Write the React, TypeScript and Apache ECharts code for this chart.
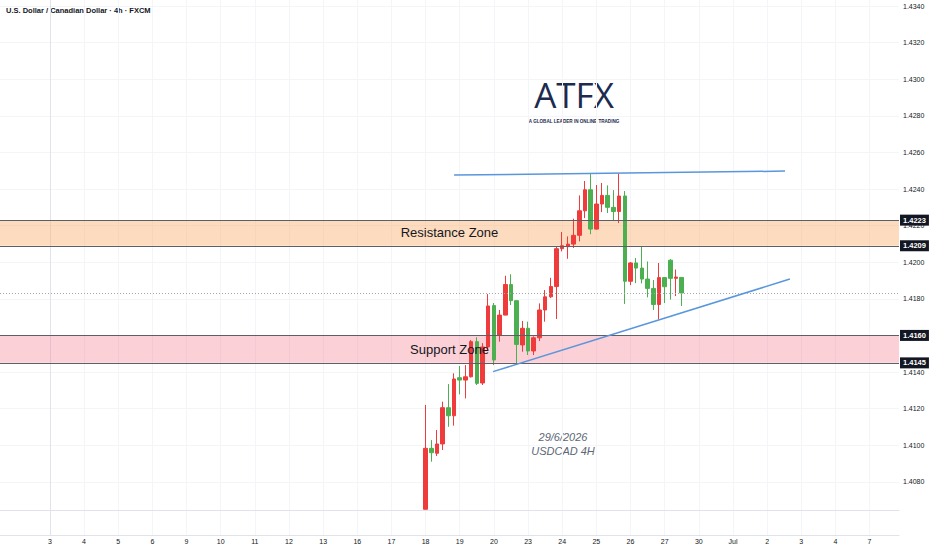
import React, { useEffect, useRef } from "react";
import * as echarts from "echarts";

// ---- data ----
const dayLabels = ["3", "4", "5", "6", "9", "10", "11", "12", "13", "16", "17", "18", "19", "20", "23", "24", "25", "26", "27", "30", "Jul", "2", "3", "4", "7"];
const barsPerDay = 6;
const firstCandleSlot = 66;

const candleOpen = [
  1.4065, 1.40983, 1.40956, 1.41007, 1.41205, 1.41161,
  1.41369, 1.41356, 1.41374, 1.41566, 1.4134, 1.41537,
  1.41763, 1.41602, 1.41711, 1.41878, 1.4179, 1.41548,
  1.41639, 1.41515, 1.41587, 1.41739, 1.41811, 1.41867,
  1.42074, 1.42085, 1.42099, 1.42147, 1.42281, 1.42396,
  1.42181, 1.42318, 1.42365, 1.423, 1.42277, 1.42362,
  1.41896, 1.41996, 1.41968, 1.41908, 1.41857, 1.41769,
  1.41916, 1.42011, 1.41912, 1.41917,
];
const candleClose = [
  1.40983, 1.40959, 1.41007, 1.41205, 1.41161, 1.41362,
  1.41356, 1.41374, 1.41566, 1.41338, 1.41537, 1.41761,
  1.41466, 1.41711, 1.41878, 1.4179, 1.41551, 1.41639,
  1.41515, 1.41587, 1.41739, 1.41811, 1.41867, 1.42074,
  1.4209, 1.42099, 1.42147, 1.42281, 1.42396, 1.42181,
  1.42318, 1.42365, 1.423, 1.42277, 1.42362, 1.41896,
  1.41996, 1.41968, 1.41908, 1.41857, 1.41769, 1.41916,
  1.41866, 1.41912, 1.41919, 1.41832,
];
const candleLow = [
  1.4065, 1.4091, 1.40941, 1.40974, 1.41101, 1.41107,
  1.41278, 1.41256, 1.4137, 1.41329, 1.41329, 1.4152,
  1.41438, 1.41566, 1.41711, 1.41766, 1.41438, 1.41511,
  1.41493, 1.41493, 1.41569, 1.41675, 1.41804, 1.4169,
  1.42059, 1.42019, 1.42078, 1.42114, 1.42241, 1.42153,
  1.42178, 1.42274, 1.42269, 1.42228, 1.42214, 1.41772,
  1.41875, 1.41886, 1.41884, 1.41808, 1.41739, 1.41687,
  1.41777, 1.41796, 1.41815, 1.41761,
];
const candleHigh = [
  1.4122, 1.41028, 1.41083, 1.41238, 1.41334, 1.41393,
  1.41433, 1.41438, 1.41575, 1.4159, 1.41558, 1.41826,
  1.41777, 1.41739, 1.41926, 1.41934, 1.4179, 1.41679,
  1.41675, 1.41595, 1.41775, 1.41848, 1.41915, 1.42088,
  1.42165, 1.42141, 1.42238, 1.42365, 1.42444, 1.42482,
  1.42422, 1.42433, 1.4242, 1.42394, 1.42485, 1.42389,
  1.42001, 1.42023, 1.42086, 1.42004, 1.41903, 1.41996,
  1.41919, 1.42017, 1.4196, 1.41919,
];

const yTicks = [1.408, 1.41, 1.412, 1.414, 1.416, 1.418, 1.42, 1.422, 1.424, 1.426, 1.428, 1.43, 1.432, 1.434];
const resistanceZone = [1.4223, 1.4209];
const supportZone = [1.416, 1.4145];
const resistanceLine = [[71.0, 1.42476], [129.15, 1.42498]];
const trendLine = [[77.85, 1.41402], [130.0, 1.41908]];
const xRange = [-8.77, 149.17];
const yRange = [1.40646, 1.43433];

const titleText = "U.S. Dollar / Canadian Dollar · 4h · FXCM";
const noteDate = "29/6/2026";
const noteSymbol = "USDCAD 4H";
const logoText = "ATFX";
const logoTagline = "A GLOBAL LEADER IN ONLINE TRADING";

const FONT = "Liberation Sans";

export default function App() {
  const ref = useRef<HTMLDivElement>(null);

  useEffect(() => {
    if (!ref.current) return;
    const chart = echarts.init(ref.current, null, { renderer: "svg" });

    const candles = candleOpen.map((o, i) => [
      firstCandleSlot + i,
      o,
      candleClose[i],
      candleLow[i],
      candleHigh[i],
    ]);
    const lastClose = candleClose[candleClose.length - 1];
    const dayTicks = dayLabels.map((_, i) => i * barsPerDay);

    const zoneLabel = (v: number) => ({
      yAxis: v,
      lineStyle: { color: "#5d5f66", width: 1, type: "solid" },
      label: {
        show: true,
        position: "end",
        distance: 1,
        formatter: v.toFixed(4),
        backgroundColor: "#131722",
        color: "#ffffff",
        fontSize: 7.5,
        fontWeight: "bold",
        fontFamily: FONT,
        padding: [2, 3, 1, 3],
      },
    });

    const blue = "#5a96dc";

    chart.setOption({
      animation: false,
      backgroundColor: "#ffffff",
      grid: [
        { left: 0, right: 33, top: 0, bottom: 40 },
        { left: 0, right: 33, top: 510, height: 25 },
      ],
      xAxis: [
        {
          type: "value",
          gridIndex: 0,
          min: xRange[0],
          max: xRange[1],
          axisLine: { show: true, onZero: false, lineStyle: { color: "#e0e3eb" } },
          axisTick: { show: false, customValues: dayTicks },
          axisLabel: { show: false },
          splitLine: { show: true, lineStyle: { color: "#f4f5f8", width: 1 } },
        },
        {
          type: "value",
          gridIndex: 1,
          min: xRange[0],
          max: xRange[1],
          axisLine: { show: true, onZero: false, lineStyle: { color: "#e0e3eb" } },
          axisTick: { show: false, customValues: dayTicks },
          axisLabel: {
            show: true,
            customValues: dayTicks,
            formatter: (v: number) => dayLabels[Math.round(v / barsPerDay)] ?? "",
            fontSize: 7,
            fontFamily: FONT,
            color: "#131722",
            margin: 3,
          },
          splitLine: { show: true, lineStyle: { color: "#f4f5f8", width: 1 } },
        },
      ],
      yAxis: [
        {
          type: "value",
          gridIndex: 0,
          position: "right",
          min: yRange[0],
          max: yRange[1],
          axisLine: { show: true, lineStyle: { color: "#e0e3eb" } },
          axisTick: { show: false, customValues: yTicks },
          axisLabel: {
            show: true,
            customValues: yTicks,
            formatter: (v: number) => v.toFixed(4),
            fontSize: 7,
            fontFamily: FONT,
            color: "#131722",
            margin: 4,
          },
          splitLine: { show: true, lineStyle: { color: "#f4f5f8", width: 1 } },
        },
        {
          type: "value",
          gridIndex: 1,
          position: "right",
          min: 0,
          max: 1,
          axisLine: { show: true, lineStyle: { color: "#e0e3eb" } },
          axisTick: { show: false },
          axisLabel: { show: false },
          splitLine: { show: false },
        },
      ],
      series: [
        {
          type: "candlestick",
          xAxisIndex: 0,
          yAxisIndex: 0,
          data: candles,
          barWidth: 4,
          clip: true,
          itemStyle: {
            color: "#ef3b3b",
            color0: "#4caf50",
            borderColor: "#ef3b3b",
            borderColor0: "#4caf50",
            borderWidth: 1,
          },
          markArea: {
            silent: true,
            label: { show: false },
            data: [
              [
                { yAxis: resistanceZone[0], itemStyle: { color: "rgba(250,175,110,0.45)" } },
                { yAxis: resistanceZone[1] },
              ],
              [
                { yAxis: supportZone[0], itemStyle: { color: "rgba(245,120,140,0.35)" } },
                { yAxis: supportZone[1] },
              ],
            ],
          },
          markLine: {
            silent: true,
            precision: 5,
            symbol: ["none", "none"],
            data: [
              {
                yAxis: lastClose,
                lineStyle: { type: [1, 2], color: "#a3a6af", width: 1 },
                label: { show: false },
              },
              zoneLabel(resistanceZone[0]),
              zoneLabel(resistanceZone[1]),
              zoneLabel(supportZone[0]),
              zoneLabel(supportZone[1]),
              [
                {
                  coord: resistanceLine[0],
                  lineStyle: { color: blue, width: 1.5, type: "solid" },
                  label: { show: false },
                },
                { coord: resistanceLine[1] },
              ],
              [
                {
                  coord: trendLine[0],
                  lineStyle: { color: blue, width: 1.5, type: "solid" },
                  label: { show: false },
                },
                { coord: trendLine[1] },
              ],
            ],
          },
        },
        {
          type: "line",
          xAxisIndex: 0,
          yAxisIndex: 0,
          data: [],
          silent: true,
          markArea: {
            silent: true,
            z: 10,
            itemStyle: { color: "rgba(0,0,0,0)" },
            label: {
              show: true,
              position: "inside",
              color: "#131722",
              fontSize: 13,
              fontFamily: FONT,
            },
            data: [
              [{ name: "Resistance Zone", yAxis: resistanceZone[0] }, { yAxis: resistanceZone[1] }],
              [{ name: "Support Zone", yAxis: supportZone[0] }, { yAxis: supportZone[1] }],
            ],
          },
        },
      ],
      graphic: [
        {
          type: "text",
          x: 6,
          y: 10,
          style: {
            text: titleText,
            fontSize: 7.5,
            fontWeight: "bold",
            fontFamily: FONT,
            fill: "#131722",
            align: "left",
            verticalAlign: "middle",
          },
        },
        {
          type: "text",
          x: 574,
          y: 94,
          style: {
            text: logoText,
            fontSize: 35,
            fontFamily: "Open Sans",
            fill: "#1d2b4f",
            align: "center",
            verticalAlign: "middle",
          },
        },
        {
          type: "text",
          x: 574,
          y: 121,
          style: {
            text: logoTagline,
            fontSize: 4.6,
            fontWeight: "bold",
            fontFamily: FONT,
            fill: "#1d2b4f",
            align: "center",
            verticalAlign: "middle",
          },
        },
        {
          type: "text",
          x: 563,
          y: 437,
          style: {
            text: noteDate,
            fontSize: 11,
            fontStyle: "italic",
            fontFamily: FONT,
            fill: "#5c6675",
            align: "center",
            verticalAlign: "middle",
          },
        },
        {
          type: "text",
          x: 563,
          y: 451,
          style: {
            text: noteSymbol,
            fontSize: 11,
            fontStyle: "italic",
            fontFamily: FONT,
            fill: "#5c6675",
            align: "center",
            verticalAlign: "middle",
          },
        },
      ],
    });

    return () => chart.dispose();
  }, []);

  return (
    <div
      ref={ref}
      style={{ position: "fixed", left: 0, top: 0, width: 932, height: 550, background: "#fff" }}
    />
  );
}
